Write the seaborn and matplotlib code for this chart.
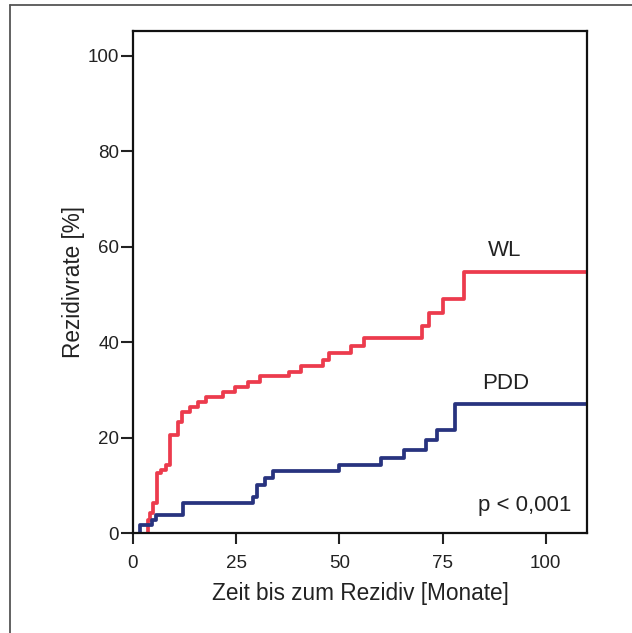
import numpy as np
import pandas as pd
import matplotlib.pyplot as plt
import seaborn as sns
from matplotlib.lines import Line2D

# Kumulative Rezidivrate (Kaplan-Meier)
wl_zeit = [3.7, 3.7, 4.2, 4.9, 5.9, 6.9, 8.1, 8.9, 10.9, 11.8, 13.8, 15.8,
           17.8, 21.8, 24.6, 27.9, 30.7, 37.9, 40.7, 46.0, 47.6, 52.8, 56.0,
           70.0, 71.7, 75.0, 80.2, 110]
wl_rate = [0, 2.7, 4.1, 6.3, 12.6, 13.2, 14.3, 20.5, 23.3, 25.4, 26.5, 27.5,
           28.6, 29.6, 30.7, 31.7, 32.8, 33.8, 34.9, 36.3, 37.7, 39.1, 40.8,
           43.4, 46.1, 49.0, 54.8, 54.8]

pdd_zeit = [1.7, 1.7, 4.5, 5.5, 12.0, 29.1, 30.0, 31.9, 33.9, 49.9, 60.1,
            65.7, 70.9, 73.7, 78.0, 110]
pdd_rate = [0, 1.7, 2.7, 3.8, 6.2, 7.6, 10.1, 11.5, 12.9, 14.2, 15.7,
            17.4, 19.4, 21.6, 27.0, 27.0]

x_ticks = [0, 25, 50, 75, 100]
y_ticks = [0, 20, 40, 60, 80, 100]

sns.set_style("ticks")
plt.rcParams['font.family'] = ['Liberation Sans', 'DejaVu Sans']

fig = plt.figure(figsize=(6.32, 6.33), dpi=100)
ax = fig.add_axes([133 / 632, 1 - 533 / 633, 454 / 632, 502 / 633])

sns.lineplot(x=wl_zeit, y=wl_rate, drawstyle='steps-post', sort=False,
             estimator=None, color='#ec3b4d', linewidth=2.7, ax=ax)
sns.lineplot(x=pdd_zeit, y=pdd_rate, drawstyle='steps-post', sort=False,
             estimator=None, color='#28337f', linewidth=2.7, ax=ax)

ax.set_xlim(0, 110)
ax.set_ylim(0, 105.2)
ax.set_xticks(x_ticks)
ax.set_yticks(y_ticks)
ax.tick_params(axis='x', length=8, width=1.5, labelsize=13.5, pad=8,
               colors='#222222')
ax.tick_params(axis='y', length=8.5, width=1.5, labelsize=13.5, pad=1.5,
               colors='#222222')
for s in ax.spines.values():
    s.set_linewidth(1.6)
    s.set_color('#111111')
    s.set_visible(True)

ax.set_xlabel('Zeit bis zum Rezidiv [Monate]', fontsize=16.3, color='#222222',
              labelpad=7)
ax.set_ylabel('Rezidivrate [%]', fontsize=16.3, color='#222222', labelpad=2)

ax.text(90.1, 58.1, 'WL', fontsize=16, ha='center', va='baseline',
        color='#222222')
ax.text(90.2, 30.2, 'PDD', fontsize=16, ha='center', va='baseline',
        color='#222222')
ax.text(106.3, 4.6, 'p < 0,001', fontsize=16, ha='right', va='baseline',
        color='#222222')

# Rahmen links und oben
fig.add_artist(Line2D([10.5 / 632, 10.5 / 632], [0, 1 - 4.5 / 633],
                      transform=fig.transFigure, color='#555555', lw=1.3))
fig.add_artist(Line2D([10.5 / 632, 1], [1 - 4.5 / 633, 1 - 4.5 / 633],
                      transform=fig.transFigure, color='#555555', lw=1.3))

fig.savefig('out.png', dpi=100)
